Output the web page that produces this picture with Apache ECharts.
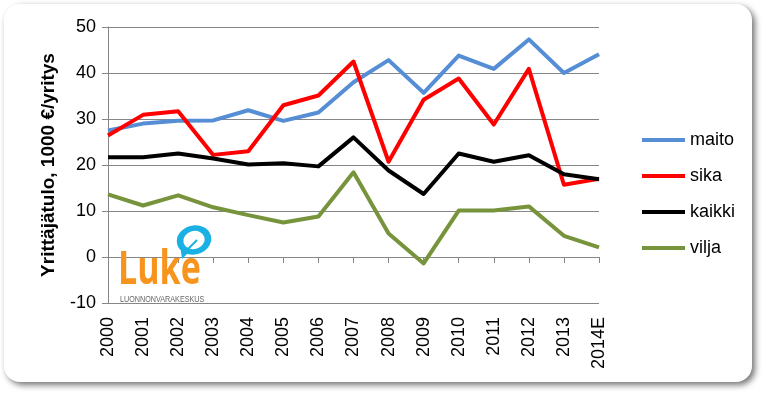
<!DOCTYPE html>
<html>
<head>
<meta charset="utf-8">
<script src="https://cdn.jsdelivr.net/npm/echarts@6/dist/echarts.min.js"></script>
<style>
  html, body { margin: 0; padding: 0; background: #fff; }
  #chart { width: 766px; height: 396px; }
</style>
</head>
<body>
<div id="chart"></div>
<script>
// vuodet
const years = ['2000', '2001', '2002', '2003', '2004', '2005', '2006', '2007',
  '2008', '2009', '2010', '2011', '2012', '2013', '2014E'];

// yrittäjätulo, 1000 €/yritys
const maito = [27.5, 29.0, 29.6, 29.7, 31.9, 29.6, 31.4, 38.0, 42.8, 35.7, 43.8, 40.9, 47.3, 40.0, 44.1];
const sika = [26.4, 30.9, 31.7, 22.2, 23.0, 33.0, 35.1, 42.5, 20.7, 34.2, 38.8, 28.8, 40.9, 15.7, 17.0];
const kaikki = [21.7, 21.7, 22.5, 21.4, 20.1, 20.4, 19.7, 26.0, 18.8, 13.7, 22.5, 20.7, 22.1, 18.0, 16.9];
const vilja = [13.6, 11.2, 13.4, 10.8, 9.1, 7.5, 8.8, 18.4, 5.1, -1.4, 10.1, 10.1, 11.0, 4.6, 2.1];

const yMin = -10, yMax = 50, yStep = 10;

const font = 'Liberation Sans, Arial, sans-serif';

const chart = echarts.init(document.getElementById('chart'));

const lineSeries = (name, data, color) => ({
  name: name,
  type: 'line',
  data: data,
  symbol: 'none',
  lineStyle: { color: color, width: 4, join: 'round' },
  itemStyle: { color: color },
  z: 3
});

const option = {
  animation: false,
  textStyle: { fontFamily: font },
  graphic: [
    {
      // pyöristetty tausta varjolla
      type: 'rect',
      z: -10,
      shape: { x: 4, y: 4, width: 748, height: 378, r: 16 },
      style: {
        fill: '#fff',
        shadowBlur: 6,
        shadowOffsetX: 3,
        shadowOffsetY: 3,
        shadowColor: 'rgba(0,0,0,0.55)'
      }
    },
    {
      type: 'text',
      z: 10,
      x: 118,
      y: 248,
      scaleX: 0.74,
      style: {
        text: 'Luke',
        font: 'bold 46px "Open Sans", sans-serif',
        fill: '#f7941d'
      }
    },
    {
      type: 'text',
      z: 10,
      x: 120,
      y: 295,
      scaleX: 0.8,
      style: {
        text: 'LUONNONVARAKESKUS',
        font: '9px "Liberation Sans", sans-serif',
        fill: '#666'
      }
    },
    {
      // kuplan häntä
      type: 'polygon',
      z: 10,
      shape: { points: [[180, 244], [191, 250], [182, 259]] },
      style: { fill: '#19b0e3' }
    },
    {
      type: 'ring',
      z: 11,
      x: 194,
      y: 240,
      scaleX: 1.2,
      rotation: 0.25,
      shape: { cx: 0, cy: 0, r: 14.5, r0: 9 },
      style: { fill: '#19b0e3' }
    },
    {
      // lehden ruoti
      type: 'line',
      z: 12,
      shape: { x1: 184, y1: 253, x2: 197, y2: 240 },
      style: { stroke: '#19b0e3', lineWidth: 2 }
    }
  ],
  legend: {
    orient: 'vertical',
    left: 637,
    top: 126,
    icon: 'rect',
    itemWidth: 43,
    itemHeight: 4,
    itemGap: 18,
    textStyle: { fontSize: 18, color: '#000', fontFamily: font },
    data: ['maito', 'sika', 'kaikki', 'vilja']
  },
  grid: {
    left: 108,
    right: 167,
    top: 27,
    bottom: 93,
    outerBoundsMode: 'none'
  },
  xAxis: {
    type: 'category',
    data: years,
    boundaryGap: false,
    axisLine: { onZero: true, lineStyle: { color: '#868686', width: 1 } },
    axisTick: { show: true, alignWithLabel: true, length: 6, lineStyle: { color: '#868686' } },
    axisLabel: {
      rotate: 90,
      margin: 14,
      fontSize: 18,
      color: '#000',
      fontFamily: font,
      interval: 0
    },
    splitLine: { show: false }
  },
  yAxis: {
    type: 'value',
    min: yMin,
    max: yMax,
    interval: yStep,
    name: 'Yrittäjätulo, 1000 €/yritys',
    nameLocation: 'middle',
    nameGap: 50,
    nameTextStyle: { fontSize: 19, fontWeight: 'bold', color: '#000', fontFamily: font },
    axisLine: { show: true, lineStyle: { color: '#868686', width: 1 } },
    axisTick: { show: true, length: 6, lineStyle: { color: '#868686' } },
    axisLabel: { fontSize: 18, color: '#000', margin: 12, fontFamily: font },
    splitLine: { show: true, lineStyle: { color: '#868686', width: 1 } }
  },
  series: [
    lineSeries('maito', maito, '#558ed5'),
    lineSeries('sika', sika, '#ff0000'),
    lineSeries('kaikki', kaikki, '#000000'),
    lineSeries('vilja', vilja, '#77933c')
  ]
};

chart.setOption(option);
</script>
</body>
</html>
